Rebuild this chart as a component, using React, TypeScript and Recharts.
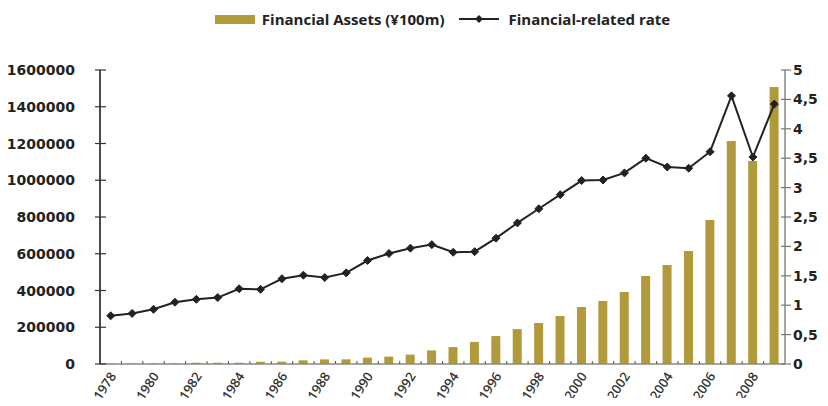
import { ComposedChart, Bar, Line, XAxis, YAxis } from "recharts";

const years = [
  "1978", "1979", "1980", "1981", "1982", "1983", "1984", "1985",
  "1986", "1987", "1988", "1989", "1990", "1991", "1992", "1993",
  "1994", "1995", "1996", "1997", "1998", "1999", "2000", "2001",
  "2002", "2003", "2004", "2005", "2006", "2007", "2008", "2009",
];

// Financial Assets (¥100m)
const assets = [
  3000, 3000, 3000, 3000, 7000, 7000, 7000, 12700,
  12700, 20000, 25000, 25500, 34500, 40000, 51000, 74000,
  92000, 120000, 152000, 190000, 223000, 261000, 310000, 343000,
  392000, 479000, 539000, 615000, 784000, 1214000, 1105000, 1507000,
];

// Financial-related rate
const rates = [
  0.82, 0.86, 0.93, 1.05, 1.1, 1.13, 1.28, 1.27,
  1.45, 1.51, 1.47, 1.55, 1.76, 1.88, 1.97, 2.03,
  1.9, 1.91, 2.14, 2.4, 2.64, 2.88, 3.12, 3.13,
  3.25, 3.5, 3.35, 3.33, 3.61, 4.56, 3.52, 4.42,
];

const leftTicks = [0, 200000, 400000, 600000, 800000, 1000000, 1200000, 1400000, 1600000];
const rightTicks = [0, 0.5, 1, 1.5, 2, 2.5, 3, 3.5, 4, 4.5, 5];

const assetsName = "Financial Assets (¥100m)";
const rateName = "Financial-related rate";

const data = years.map((year, i) => ({ year, assets: assets[i], rate: rates[i] }));

const GOLD = "#B09A3B";
const LINE = "#222";
const NUM_FONT = "'DejaVu Sans', sans-serif";

const LeftTick = (props: any) => {
  const { x, y, payload } = props;
  return (
    <g>
      <line x1={x - 5} x2={x + 6} y1={y} y2={y} stroke="#333" strokeWidth={1.2} />
      <text x={x - 25} y={y} dy={5} textAnchor="end" fontFamily={NUM_FONT} fontWeight="bold" fontSize={14} fill="#222">
        {payload.value}
      </text>
    </g>
  );
};

const RightTick = (props: any) => {
  const { x, y, payload } = props;
  return (
    <g>
      <line x1={x - 4} x2={x + 6} y1={y} y2={y} stroke="#777" strokeWidth={1.2} />
      <text x={x + 8} y={y} dy={5} textAnchor="start" fontFamily={NUM_FONT} fontWeight="bold" fontSize={14} fill="#222">
        {String(payload.value).replace(".", ",")}
      </text>
    </g>
  );
};

const YearTick = (props: any) => {
  const { x, y, payload, index } = props;
  const half = payload.offset ? payload.offset : 10.7;
  return (
    <g>
      {index < years.length - 1 && (
        <line x1={x + half} x2={x + half} y1={y - 3} y2={y} stroke="#555" strokeWidth={1} />
      )}
      {index % 2 === 0 && (
        <text
          x={x + 6}
          y={y + 12}
          textAnchor="end"
          transform={`rotate(-57 ${x + 6} ${y + 12})`}
          fontFamily="'Open Sans', sans-serif"
          fontWeight={600}
          fontSize={13}
          fill="#333"
        >
          {payload.value}
        </text>
      )}
    </g>
  );
};

const Diamond = (props: any) => {
  const { cx, cy } = props;
  if (cx == null || cy == null) return null;
  const r = 4;
  return (
    <polygon
      points={`${cx},${cy - r} ${cx + r},${cy} ${cx},${cy + r} ${cx - r},${cy}`}
      fill={LINE}
      stroke={LINE}
    />
  );
};

export default function App() {
  return (
    <div style={{ position: "relative", width: 828, height: 406, margin: -8, background: "#fff" }}>
      {/* legend */}
      <div
        style={{
          position: "absolute", top: 8, left: 100, width: 685, height: 22,
          display: "flex", justifyContent: "center", alignItems: "center",
          fontFamily: "'Open Sans', sans-serif", fontWeight: 700, fontSize: 15, color: "#222",
        }}
      >
        <span style={{ display: "inline-block", width: 40, height: 9, background: GOLD, marginRight: 7 }} />
        <span>{assetsName}</span>
        <svg width={40} height={10} style={{ marginLeft: 15, marginRight: 9 }}>
          <line x1={0} x2={40} y1={5} y2={5} stroke={LINE} strokeWidth={2} />
          <polygon points="20,1 24,5 20,9 16,5" fill={LINE} />
        </svg>
        <span>{rateName}</span>
      </div>

      <ComposedChart width={828} height={406} data={data} margin={{ top: 70, right: 0, bottom: 0, left: 0 }}>
        <XAxis
          dataKey="year"
          interval={0}
          height={42}
          tickSize={0}
          tickMargin={0}
          tick={<YearTick />}
          tickLine={false}
          axisLine={{ stroke: "#888", strokeWidth: 1.5 }}
        />
        <YAxis
          yAxisId="left"
          orientation="left"
          width={100}
          domain={[0, 1600000]}
          ticks={leftTicks}
          interval={0}
          tickSize={0}
          tickMargin={0}
          tickLine={false}
          tick={<LeftTick />}
          axisLine={{ stroke: "#111", strokeWidth: 1.5 }}
        />
        <YAxis
          yAxisId="right"
          orientation="right"
          width={43}
          domain={[0, 5]}
          ticks={rightTicks}
          interval={0}
          tickSize={0}
          tickMargin={0}
          tickLine={false}
          tick={<RightTick />}
          axisLine={{ stroke: "#888", strokeWidth: 1.5 }}
        />
        <Bar yAxisId="left" dataKey="assets" name={assetsName} fill={GOLD} barSize={9} isAnimationActive={false} />
        <Line
          yAxisId="right"
          dataKey="rate"
          name={rateName}
          type="linear"
          stroke={LINE}
          strokeWidth={2}
          dot={<Diamond />}
          activeDot={false}
          isAnimationActive={false}
        />
      </ComposedChart>
    </div>
  );
}
